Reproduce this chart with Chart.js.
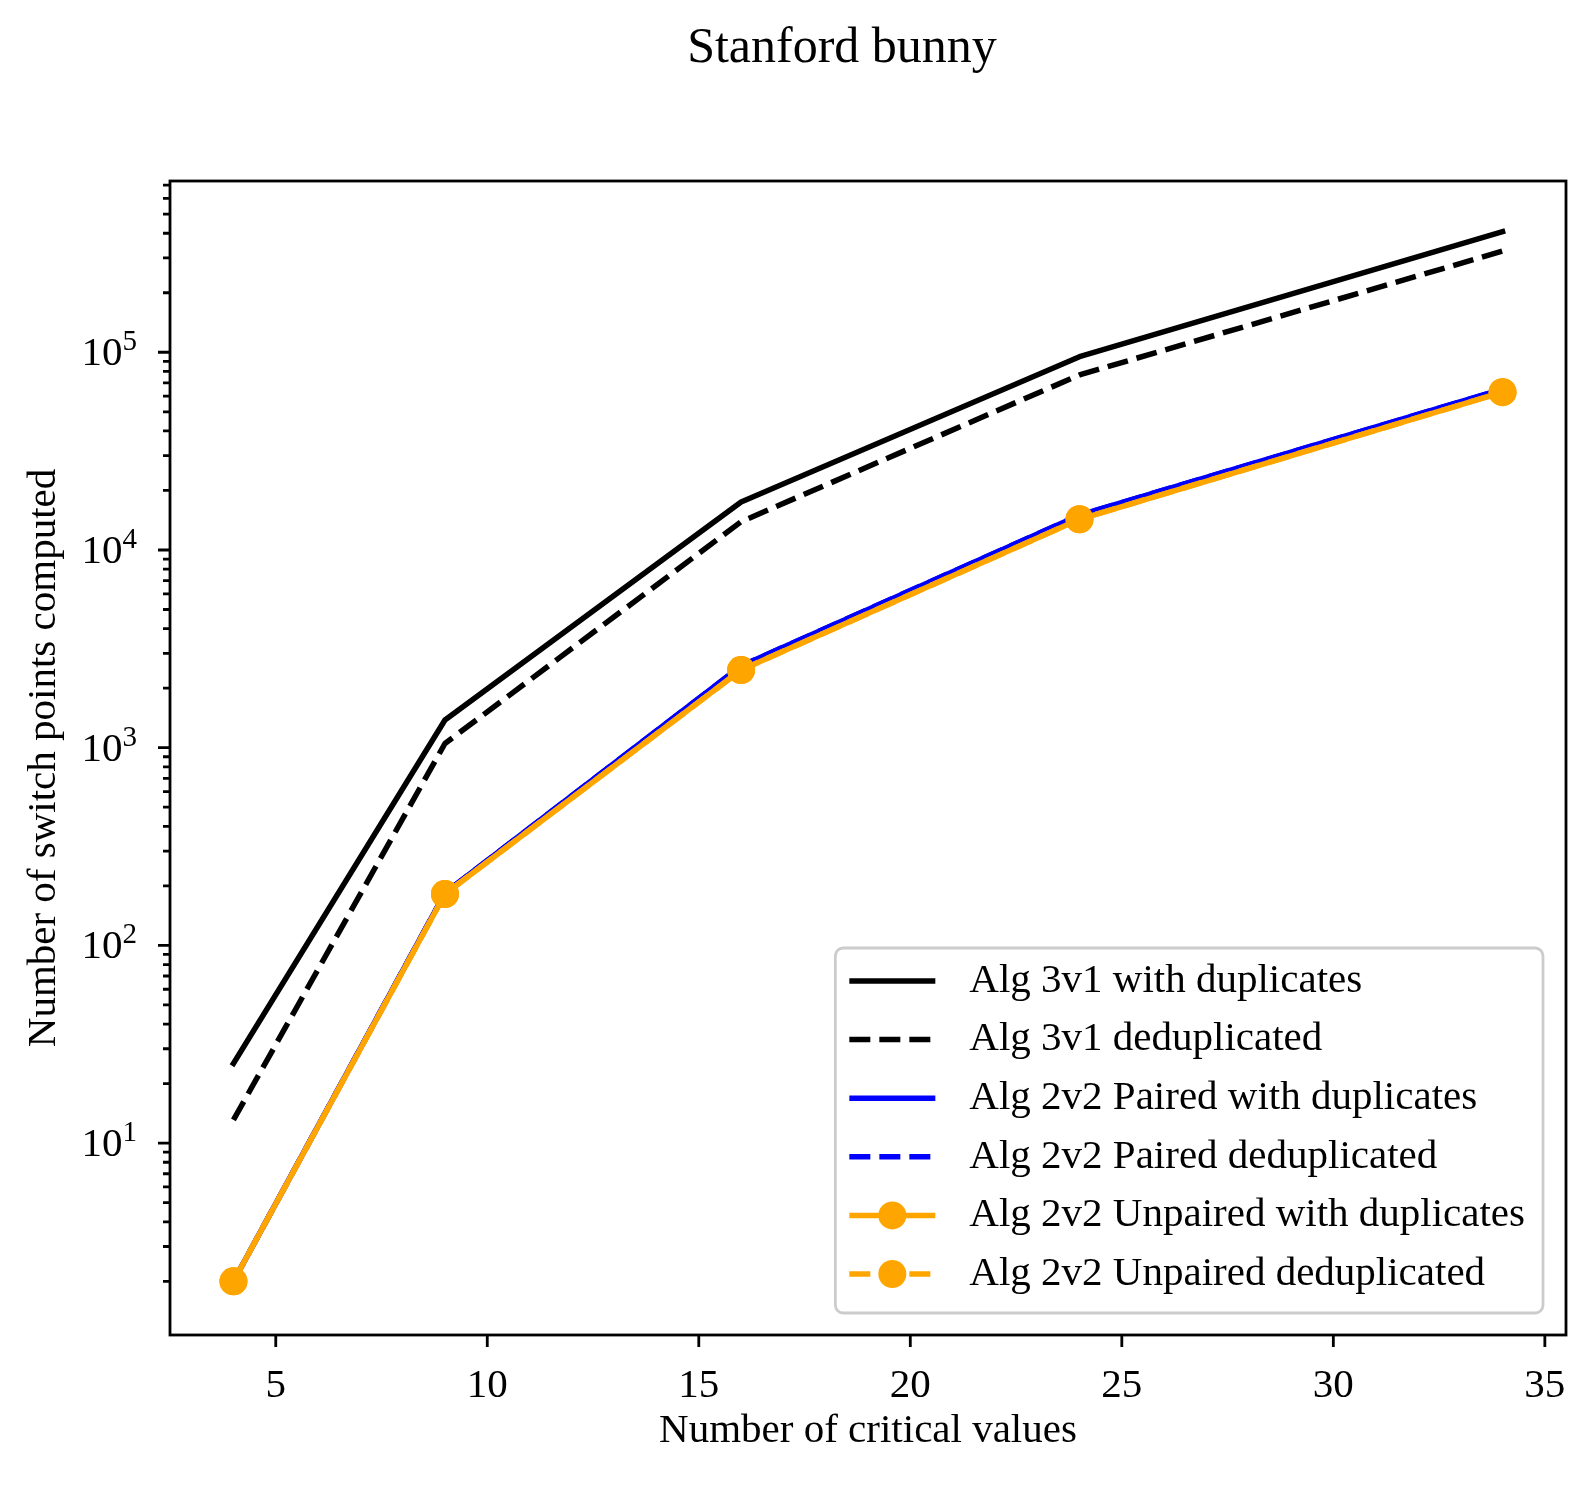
<!DOCTYPE html>
<html>
<head>
<meta charset="utf-8">
<script src="https://cdn.jsdelivr.net/npm/chart.js@4.4.1/dist/chart.umd.min.js"></script>
<style>
body { margin: 0; background: #fff; }
</style>
</head>
<body>
<canvas id="myChart" width="1594" height="1485"></canvas>
<script>
// data
const criticalValues = [4, 9, 16, 24, 34];
const alg3v1Dup = [25.3, 1380, 17500, 95000, 407000];
const alg3v1Dedup = [13.1, 1050, 13900, 76800, 325000];
const alg2v2PairedDup = [2, 184, 2590, 15000, 65000];
const alg2v2PairedDedup = [2, 184, 2590, 15000, 65000];
const alg2v2UnpairedDup = [2, 182, 2470, 14300, 62800];
const alg2v2UnpairedDedup = [2, 182, 2470, 14300, 62800];
const xTicks = [5, 10, 15, 20, 25, 30, 35];
const yExponents = [0, 1, 2, 3, 4, 5];

const FONT = '"Liberation Serif", "Times New Roman", serif';
const LW = 5.5;
const DASH = [21, 9];

function pts(ys) {
    return criticalValues.map((x, i) => ({x: x, y: ys[i]}));
}

function isDecade(v) {
    const e = Math.round(Math.log10(v));
    return Math.abs(Math.pow(10, e) - v) < 1e-6 * v;
}

// frame, tick marks, 10^n labels, title and legend
const frameTicks = {
    id: 'frameTicks',
    afterDatasetsDraw(chart) {
        const ctx = chart.ctx;
        const a = chart.chartArea;
        const xs = chart.scales.x, ys = chart.scales.y;
        ctx.save();
        ctx.strokeStyle = '#000';
        ctx.lineWidth = 2.8;
        ctx.setLineDash([]);
        ctx.beginPath();
        xs.ticks.forEach(t => {
            const px = xs.getPixelForValue(t.value);
            ctx.moveTo(px, a.bottom);
            ctx.lineTo(px, a.bottom + 12);
        });
        ys.ticks.forEach(t => {
            const py = ys.getPixelForValue(t.value);
            const len = t.major ? 12 : 7;
            ctx.moveTo(a.left, py);
            ctx.lineTo(a.left - len, py);
        });
        ctx.stroke();
        ctx.strokeRect(a.left, a.top, a.right - a.left, a.bottom - a.top);

        // y labels as 10 with a raised exponent
        ctx.fillStyle = '#000';
        ctx.textBaseline = 'alphabetic';
        ys.ticks.forEach(t => {
            if (!isDecade(t.value)) return;
            const py = ys.getPixelForValue(t.value);
            const exp = String(Math.round(Math.log10(t.value)));
            const right = a.left - 33;
            ctx.font = '29px ' + FONT;
            const ew = ctx.measureText(exp).width;
            ctx.textAlign = 'left';
            ctx.fillText(exp, right - ew, py - 2);
            ctx.font = '41px ' + FONT;
            ctx.textAlign = 'right';
            ctx.fillText('10', right - ew, py + 13);
        });
        ctx.restore();
    },
    afterDraw(chart) {
        const ctx = chart.ctx;
        const a = chart.chartArea;
        ctx.save();
        // title
        ctx.fillStyle = '#000';
        ctx.font = '50px ' + FONT;
        ctx.textAlign = 'center';
        ctx.textBaseline = 'middle';
        ctx.fillText('Stanford bunny', 842, 49);

        // legend
        ctx.font = '41px ' + FONT;
        const dsets = chart.data.datasets;
        let maxW = 0;
        dsets.forEach(d => { maxW = Math.max(maxW, ctx.measureText(d.label).width); });
        const rowH = 58.6;
        const boxW = 14 + 86 + 34 + maxW + 18;
        const boxH = 365;
        const bx = a.right - 23 - boxW;
        const by = a.bottom - 22 - boxH;
        ctx.beginPath();
        ctx.roundRect(bx, by, boxW, boxH, 8);
        ctx.fillStyle = 'rgba(255,255,255,0.8)';
        ctx.fill();
        ctx.lineWidth = 2.8;
        ctx.strokeStyle = '#cccccc';
        ctx.stroke();
        dsets.forEach((d, i) => {
            const cy = by + 33 + i * rowH;
            const hx0 = bx + 14, hx1 = hx0 + 86;
            ctx.setLineDash(d.borderDash || []);
            ctx.lineWidth = d.borderWidth;
            ctx.strokeStyle = d.borderColor;
            ctx.lineCap = 'butt';
            ctx.beginPath();
            ctx.moveTo(hx0, cy);
            ctx.lineTo(hx1, cy);
            ctx.stroke();
            ctx.setLineDash([]);
            if (d.pointRadius > 0) {
                ctx.beginPath();
                ctx.arc((hx0 + hx1) / 2, cy, d.pointRadius, 0, Math.PI * 2);
                ctx.fillStyle = d.pointBackgroundColor;
                ctx.fill();
            }
            ctx.fillStyle = '#000';
            ctx.textAlign = 'left';
            ctx.textBaseline = 'middle';
            ctx.fillText(d.label, hx1 + 34, cy);
        });
        ctx.restore();
    }
};

function lineSet(label, ys, color, dashed, markers, order) {
    return {
        label: label,
        data: pts(ys),
        borderColor: color,
        backgroundColor: color,
        borderWidth: LW,
        borderDash: dashed ? DASH : [],
        borderCapStyle: dashed ? 'butt' : 'square',
        borderJoinStyle: 'round',
        pointRadius: markers ? 14 : 0,
        pointHoverRadius: markers ? 14 : 0,
        pointBackgroundColor: color,
        pointBorderWidth: 0,
        tension: 0,
        fill: false,
        order: order
    };
}

const ctx = document.getElementById('myChart');
const chart = new Chart(ctx, {
    type: 'line',
    data: {
        datasets: [
            lineSet('Alg 3v1 with duplicates', alg3v1Dup, '#000000', false, false, 6),
            lineSet('Alg 3v1 deduplicated', alg3v1Dedup, '#000000', true, false, 5),
            lineSet('Alg 2v2 Paired with duplicates', alg2v2PairedDup, '#0000ff', false, false, 4),
            lineSet('Alg 2v2 Paired deduplicated', alg2v2PairedDedup, '#0000ff', true, false, 3),
            lineSet('Alg 2v2 Unpaired with duplicates', alg2v2UnpairedDup, '#ffa500', false, true, 2),
            lineSet('Alg 2v2 Unpaired deduplicated', alg2v2UnpairedDedup, '#ffa500', true, true, 1)
        ]
    },
    options: {
        responsive: false,
        animation: false,
        devicePixelRatio: 1,
        layout: {
            padding: {left: 0, right: 28, top: 181, bottom: 0}
        },
        plugins: {
            legend: {display: false},
            tooltip: {enabled: false},
            title: {display: false}
        },
        scales: {
            x: {
                type: 'linear',
                min: 2.5,
                max: 35.5,
                afterBuildTicks: (scale) => {
                    scale.ticks = xTicks.map(v => ({value: v}));
                },
                afterFit: (scale) => { scale.height = 150; },
                grid: {display: false},
                border: {display: false},
                ticks: {
                    color: '#000',
                    font: {family: FONT, size: 41},
                    padding: 19,
                    maxRotation: 0,
                    autoSkip: false
                },
                title: {
                    display: true,
                    text: 'Number of critical values',
                    color: '#000',
                    font: {family: FONT, size: 41},
                    padding: {top: 0, bottom: 29}
                }
            },
            y: {
                type: 'logarithmic',
                min: 1.07,
                max: 735000,
                afterBuildTicks: (scale) => {
                    const t = [];
                    yExponents.forEach(e => {
                        for (let m = 1; m <= 9; m++) {
                            const v = m * Math.pow(10, e);
                            if (v >= scale.min && v <= scale.max) t.push({value: v, major: m === 1});
                        }
                    });
                    scale.ticks = t;
                },
                afterFit: (scale) => { scale.width = 170; },
                grid: {display: false},
                border: {display: false},
                ticks: {
                    color: '#000',
                    font: {family: FONT, size: 41},
                    autoSkip: false,
                    callback: () => ''
                },
                title: {
                    display: true,
                    text: 'Number of switch points computed',
                    color: '#000',
                    font: {family: FONT, size: 41},
                    padding: {top: 20, bottom: 0}
                }
            }
        }
    },
    plugins: [frameTicks]
});
</script>
</body>
</html>
